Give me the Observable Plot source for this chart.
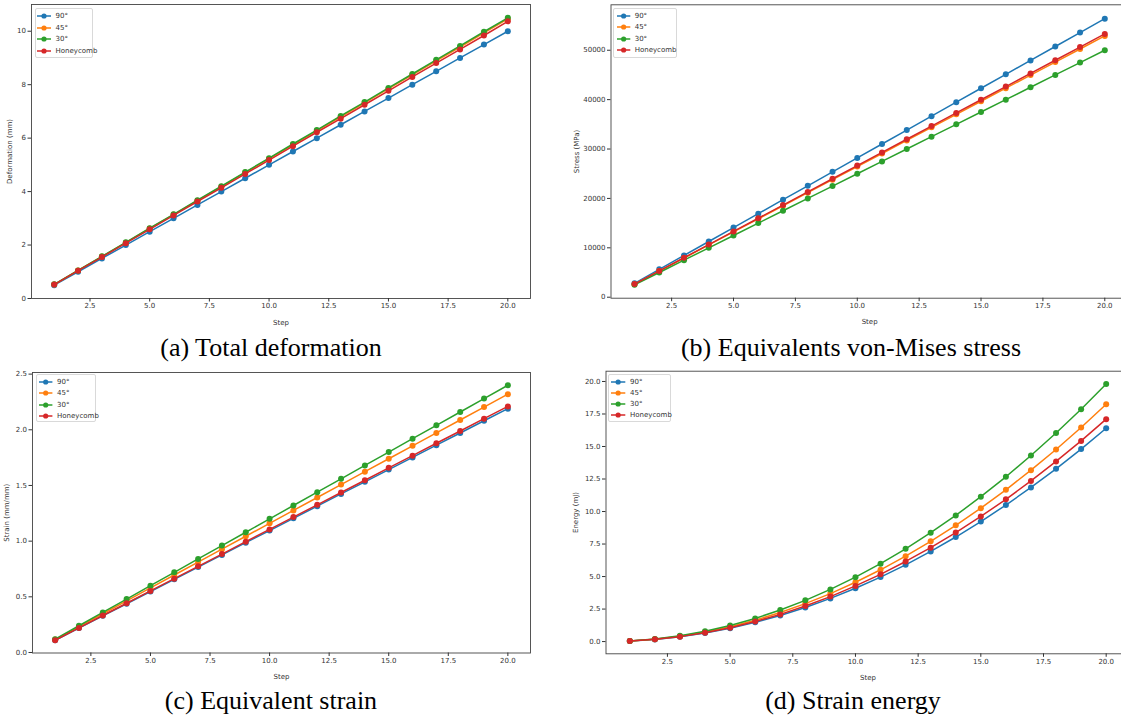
<!DOCTYPE html>
<html><head><meta charset="utf-8">
<script src="https://cdn.jsdelivr.net/npm/d3@7"></script>
<script src="https://cdn.jsdelivr.net/npm/@observablehq/plot@0.6"></script>
<style>
html,body{margin:0;padding:0;background:#fff;overflow:hidden}
#root{position:relative;width:1121px;height:719px;overflow:hidden;background:#fff}
.panel{position:absolute;color:#333}
.panel svg{max-width:none !important}
.caption{position:absolute;width:560px;font-family:"Liberation Serif","Times New Roman",serif;font-size:26px;line-height:26px;text-align:center;color:#000;white-space:nowrap}
.legend{position:absolute;box-sizing:border-box;border:1px solid #d9d9d9;border-radius:2px;background:rgba(255,255,255,0.9);font-family:"DejaVu Sans",sans-serif;font-size:7px;color:#333}
.legend .row{position:absolute;left:0;height:8px;line-height:8px;white-space:nowrap}
.legend svg{position:absolute;top:0}
.legend span{position:absolute;top:0}
</style></head><body><div id="root"></div>
<script>
const steps = [1,2,3,4,5,6,7,8,9,10,11,12,13,14,15,16,17,18,19,20];
const seriesNames = ["90°","45°","30°","Honeycomb"];
const seriesColors = ["#1f77b4","#ff7f0e","#2ca02c","#d62728"];

// (a) Total deformation (mm)
const deform90 = [0.5,1.0,1.5,2.0,2.5,3.0,3.5,4.0,4.5,5.0,5.5,6.0,6.5,7.0,7.5,8.0,8.5,9.0,9.5,10.0];
const deform45 = [0.52,1.05,1.57,2.09,2.62,3.14,3.66,4.18,4.71,5.23,5.75,6.28,6.8,7.32,7.85,8.37,8.89,9.41,9.94,10.46];
const deform30 = [0.53,1.05,1.58,2.1,2.63,3.15,3.68,4.2,4.73,5.25,5.78,6.3,6.83,7.35,7.88,8.4,8.93,9.45,9.98,10.5];
const deformHC = [0.52,1.04,1.55,2.07,2.59,3.11,3.63,4.14,4.66,5.18,5.7,6.22,6.73,7.25,7.77,8.29,8.81,9.32,9.84,10.37];

// (b) Equivalent von-Mises stress (MPa)
const stress90 = [2820,5640,8460,11280,14100,16920,19740,22560,25380,28200,31020,33840,36660,39480,42300,45120,47940,50760,53580,56400];
const stress45 = [2645,5290,7935,10580,13225,15870,18515,21160,23805,26450,29095,31740,34385,37030,39675,42320,44965,47610,50255,52900];
const stress30 = [2500,5000,7500,10000,12500,15000,17500,20000,22500,25000,27500,30000,32500,35000,37500,40000,42500,45000,47500,50000];
const stressHC = [2665,5330,7995,10660,13325,15990,18655,21320,23985,26650,29315,31980,34645,37310,39975,42640,45305,47970,50635,53300];

// (c) Equivalent strain (mm/mm)
const strain90 = [0.11,0.219,0.329,0.438,0.548,0.657,0.767,0.876,0.986,1.095,1.205,1.314,1.424,1.533,1.643,1.752,1.862,1.971,2.081,2.19];
const strain45 = [0.116,0.232,0.348,0.464,0.58,0.696,0.812,0.928,1.044,1.16,1.276,1.392,1.508,1.624,1.74,1.856,1.972,2.088,2.204,2.32];
const strain30 = [0.12,0.24,0.36,0.48,0.6,0.72,0.84,0.96,1.08,1.2,1.32,1.44,1.56,1.68,1.8,1.92,2.04,2.16,2.28,2.4];
const strainHC = [0.11,0.221,0.332,0.442,0.553,0.663,0.774,0.884,0.995,1.105,1.216,1.326,1.437,1.547,1.658,1.768,1.879,1.989,2.1,2.21];

// (d) Strain energy (mJ)
const energy90 = [0.04,0.16,0.37,0.66,1.03,1.48,2.01,2.62,3.32,4.1,4.96,5.9,6.93,8.04,9.23,10.5,11.85,13.28,14.8,16.4];
const energy45 = [0.05,0.18,0.41,0.73,1.14,1.64,2.23,2.92,3.69,4.56,5.52,6.57,7.71,8.94,10.26,11.67,13.18,14.77,16.46,18.25];
const energy30 = [0.05,0.2,0.45,0.79,1.24,1.78,2.43,3.17,4.01,4.95,5.99,7.13,8.37,9.7,11.14,12.67,14.31,16.04,17.87,19.8];
const energyHC = [0.04,0.17,0.38,0.68,1.07,1.54,2.09,2.74,3.46,4.28,5.17,6.16,7.22,8.38,9.62,10.94,12.35,13.85,15.43,17.1];

const xTicks = [2.5,5.0,7.5,10.0,12.5,15.0,17.5,20.0];
const deformTicks = [0,2,4,6,8,10];
const stressTicks = [0,10000,20000,30000,40000,50000];
const strainTicks = [0.0,0.5,1.0,1.5,2.0,2.5];
const energyTicks = [0.0,2.5,5.0,7.5,10.0,12.5,15.0,17.5,20.0];

const captions = ["(a) Total deformation","(b) Equivalents von-Mises stress","(c) Equivalent strain","(d) Strain energy"];
const yLabels = ["Deformation (mm)","Stress (MPa)","Strain (mm/mm)","Energy (mJ)"];
const xLabel = "Step";

const root = document.getElementById("root");

function toRows(arrays) {
  const rows = [];
  arrays.forEach((arr, i) => arr.forEach((v, j) => rows.push({step: steps[j], value: v, series: seriesNames[i]})));
  return rows;
}

function makePanel(cfg) {
  const rows = toRows(cfg.arrays);
  const marks = [Plot.frame({stroke: "#444", strokeWidth: 0.9})];
  seriesNames.forEach(s => {
    const d = rows.filter(r => r.series === s);
    marks.push(Plot.line(d, {x: "step", y: "value", stroke: "series", strokeWidth: 1.5}));
    marks.push(Plot.dot(d, {x: "step", y: "value", fill: "series", r: 3}));
  });
  marks.push(Plot.axisX({ticks: xTicks, tickFormat: d => d.toFixed(1), tickSize: 3.5, tickPadding: 1.5, fontSize: 7,
    fontFamily: "DejaVu Sans", label: xLabel, labelAnchor: "center", labelArrow: "none", labelOffset: cfg.xLabelOffset}));
  marks.push(Plot.axisY({ticks: cfg.yTicks, tickFormat: cfg.yFormat, tickSize: 3.5, tickPadding: 2, fontSize: 7,
    fontFamily: "DejaVu Sans", label: cfg.yLabel, labelAnchor: "center", labelArrow: "none", labelOffset: cfg.yLabelOffset}));
  const svg = Plot.plot({
    width: cfg.width, height: cfg.height,
    marginLeft: cfg.ml, marginRight: cfg.mr, marginTop: cfg.mt, marginBottom: cfg.mb,
    style: {fontFamily: "DejaVu Sans", fontSize: "7px", background: "transparent", overflow: "visible", maxWidth: "none"},
    x: {domain: [0.05, 20.95]},
    y: {domain: cfg.yDomain},
    color: {domain: seriesNames, range: seriesColors},
    marks
  });
  const wrap = document.createElement("div");
  wrap.className = "panel";
  wrap.style.left = cfg.left + "px";
  wrap.style.top = cfg.top + "px";
  wrap.style.width = cfg.width + "px";
  wrap.style.height = cfg.height + "px";
  wrap.appendChild(svg);
  root.appendChild(wrap);
}

function makeLegend(lg) {
  const div = document.createElement("div");
  div.className = "legend";
  Object.assign(div.style, {left: lg.left + "px", top: lg.top + "px", width: lg.w + "px", height: lg.h + "px"});
  seriesNames.forEach((s, i) => {
    const row = document.createElement("div");
    row.className = "row";
    row.style.top = (lg.y0 + i * lg.dy - 4) + "px";
    row.style.width = "100%";
    const w = lg.x1 - lg.x0;
    row.innerHTML = `<svg width="${w + 6}" height="8" style="left:${lg.x0 - 3}px"><line x1="3" x2="${w + 3}" y1="4" y2="4" stroke="${seriesColors[i]}" stroke-width="1.5"/><circle cx="${3 + w / 2}" cy="4" r="2.6" fill="${seriesColors[i]}"/></svg><span style="left:${lg.tx}px">${s}</span>`;
    div.appendChild(row);
  });
  root.appendChild(div);
}

function makeCaption(text, left, top) {
  const c = document.createElement("div");
  c.className = "caption";
  c.style.left = left + "px";
  c.style.top = top + "px";
  c.textContent = text;
  root.appendChild(c);
}

makePanel({left: 0, top: 0, width: 560, height: 330, ml: 31, mr: 30, mt: 4, mb: 32,
  yDomain: [0, 11], yTicks: deformTicks, yFormat: d => String(d), yLabel: yLabels[0],
  yLabelOffset: 24.5, xLabelOffset: 26, arrays: [deform90, deform45, deform30, deformHC]});
makePanel({left: 560, top: 0, width: 570, height: 330, ml: 50.5, mr: 2.2, mt: 4.3, mb: 32.3,
  yDomain: [-200, 59200], yTicks: stressTicks, yFormat: d => String(d), yLabel: yLabels[1],
  yLabelOffset: 37, xLabelOffset: 25.5, arrays: [stress90, stress45, stress30, stressHC]});
makePanel({left: 0, top: 360, width: 560, height: 330, ml: 32, mr: 30, mt: 12, mb: 37.5,
  yDomain: [-0.0045, 2.5145], yTicks: strainTicks, yFormat: d => d.toFixed(1), yLabel: yLabels[2],
  yLabelOffset: 28.5, xLabelOffset: 26, arrays: [strain90, strain45, strain30, strainHC]});
makePanel({left: 560, top: 360, width: 570, height: 330, ml: 45.5, mr: 0.5, mt: 10.7, mb: 36.7,
  yDomain: [-0.94, 20.79], yTicks: energyTicks, yFormat: d => d.toFixed(1), yLabel: yLabels[3],
  yLabelOffset: 32.5, xLabelOffset: 26, arrays: [energy90, energy45, energy30, energyHC]});

makeLegend({left: 35, top: 8, w: 58, h: 50, y0: 7.3, dy: 11.4, x0: 1, x1: 15, tx: 19.5});
makeLegend({left: 613, top: 8, w: 64, h: 50, y0: 6.6, dy: 11.5, x0: 3.4, x1: 16.7, tx: 20.7});
makeLegend({left: 36, top: 374, w: 60, h: 48, y0: 6.6, dy: 11.5, x0: 2.3, x1: 15.7, tx: 20});
makeLegend({left: 608, top: 374, w: 63, h: 48, y0: 6.8, dy: 11.1, x0: 2.4, x1: 16.7, tx: 21});

makeCaption(captions[0], -9, 335);
makeCaption(captions[1], 571, 335);
makeCaption(captions[2], -9, 688);
makeCaption(captions[3], 573, 688);
</script></body></html>
